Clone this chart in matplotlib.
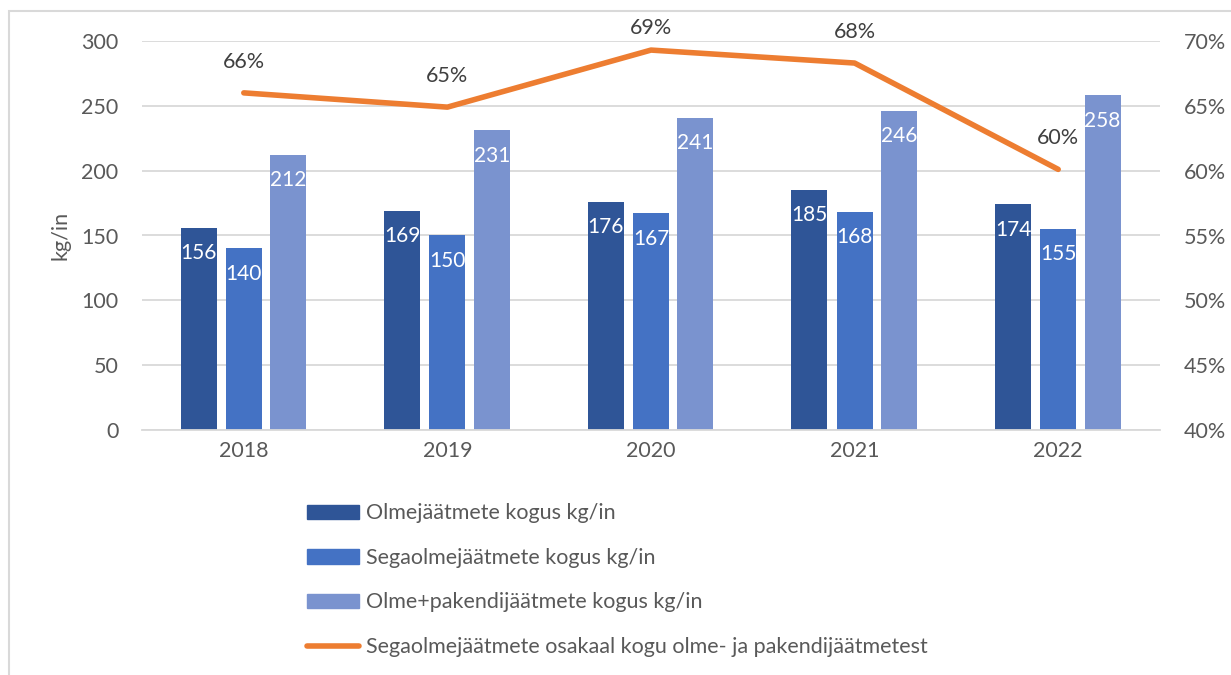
import matplotlib.pyplot as plt
import numpy as np
from matplotlib.patches import Rectangle
from matplotlib.lines import Line2D

plt.rcParams['font.family'] = ['Lato', 'DejaVu Sans']

aastad = ['2018', '2019', '2020', '2021', '2022']
olme = [156, 169, 176, 185, 174]
segaolme = [140, 150, 167, 168, 155]
olme_pakend = [212, 231, 241, 246, 258]
osakaal = [66.0, 64.9, 69.3, 68.3, 60.1]

nimed = ['Olmejäätmete kogus kg/in',
         'Segaolmejäätmete kogus kg/in',
         'Olme+pakendijäätmete kogus kg/in',
         'Segaolmejäätmete osakaal kogu olme- ja pakendijäätmetest']
varvid = ['#2F5597', '#4472C4', '#7A93CF']
oranz = '#ED7D31'
hall = '#595959'
fs = 15.5

fig = plt.figure(figsize=(12.31, 6.75), dpi=100)
ax = fig.add_axes([142 / 1231, 1 - 430 / 675, (1160 - 142) / 1231, (430 - 41) / 675])
ax2 = ax.twinx()

x = np.arange(len(aastad))
laius = 0.177
nihked = [-0.222, 0.0, 0.218]
for seeria, nihe, varv in zip([olme, segaolme, olme_pakend], nihked, varvid):
    ax.bar(x + nihe, seeria, laius, color=varv, zorder=2)
    for xi, v in zip(x + nihe, seeria):
        ax.annotate(str(v), (xi, v), xytext=(0, -11), textcoords='offset points',
                    ha='center', va='top', color='white', fontsize=15, zorder=3)

ax.set_xlim(-0.5, len(aastad) - 0.5)
ax.set_ylim(0, 300)
ax.set_yticks(range(0, 301, 50))
ax.set_xticks(x)
ax.set_xticklabels(aastad)
ax.yaxis.grid(True, color='#D9D9D9', linewidth=1.3, zorder=0)
ax.set_axisbelow(True)
ax.tick_params(length=0, labelsize=fs, colors=hall)
ax.tick_params(axis='y', pad=17)
ax.tick_params(axis='x', pad=8)
ax.set_ylabel('kg/in', fontsize=fs, color=hall, labelpad=8)
for s in ['top', 'right', 'left']:
    ax.spines[s].set_visible(False)
ax.spines['bottom'].set_color('#D9D9D9')
ax.spines['bottom'].set_linewidth(1.3)

ax2.plot(x, osakaal, color=oranz, linewidth=4, solid_capstyle='round', zorder=4)
ax2.set_ylim(40, 70)
# sildid punktist ~31 px kõrgemal, aga mitte üle diagrammi ülaserva
fig.canvas.draw()
ylemine = ax2.transData.transform((0, 70))[1] + 13
for xi, v in zip(x, osakaal):
    py = ax2.transData.transform((xi, v))[1]
    sy = min(py + 31, ylemine)
    ax2.annotate(f'{v:.0f}%', (xi, v), xytext=(0, (sy - py) * 72 / fig.dpi),
                 textcoords='offset points', ha='center', va='center',
                 color='#404040', fontsize=fs)
ax2.set_yticks(range(40, 71, 5))
ax2.set_yticklabels([f'{t}%' for t in range(40, 71, 5)])
ax2.tick_params(length=0, labelsize=fs, colors=hall, pad=17)
for s in ax2.spines.values():
    s.set_visible(False)

kasitsejad = [Rectangle((0, 0), 1, 1, color=c) for c in varvid]
kasitsejad.append(Line2D([0], [0], color=oranz, linewidth=4, solid_capstyle='round'))
fig.legend(kasitsejad, nimed, loc='upper left', bbox_to_anchor=(288 / 1231, 1 - 484 / 675),
           frameon=False, fontsize=fs, labelcolor=hall, handlelength=2.4,
           handleheight=0.65, labelspacing=1.14, handletextpad=0.3)

fig.patches.append(Rectangle((9 / 1231, -0.1), 1.2, 1.1 - 11 / 675, transform=fig.transFigure,
                             fill=False, edgecolor='#D9D9D9', linewidth=1.5))

fig.savefig('out.png', dpi=100, facecolor='white')
